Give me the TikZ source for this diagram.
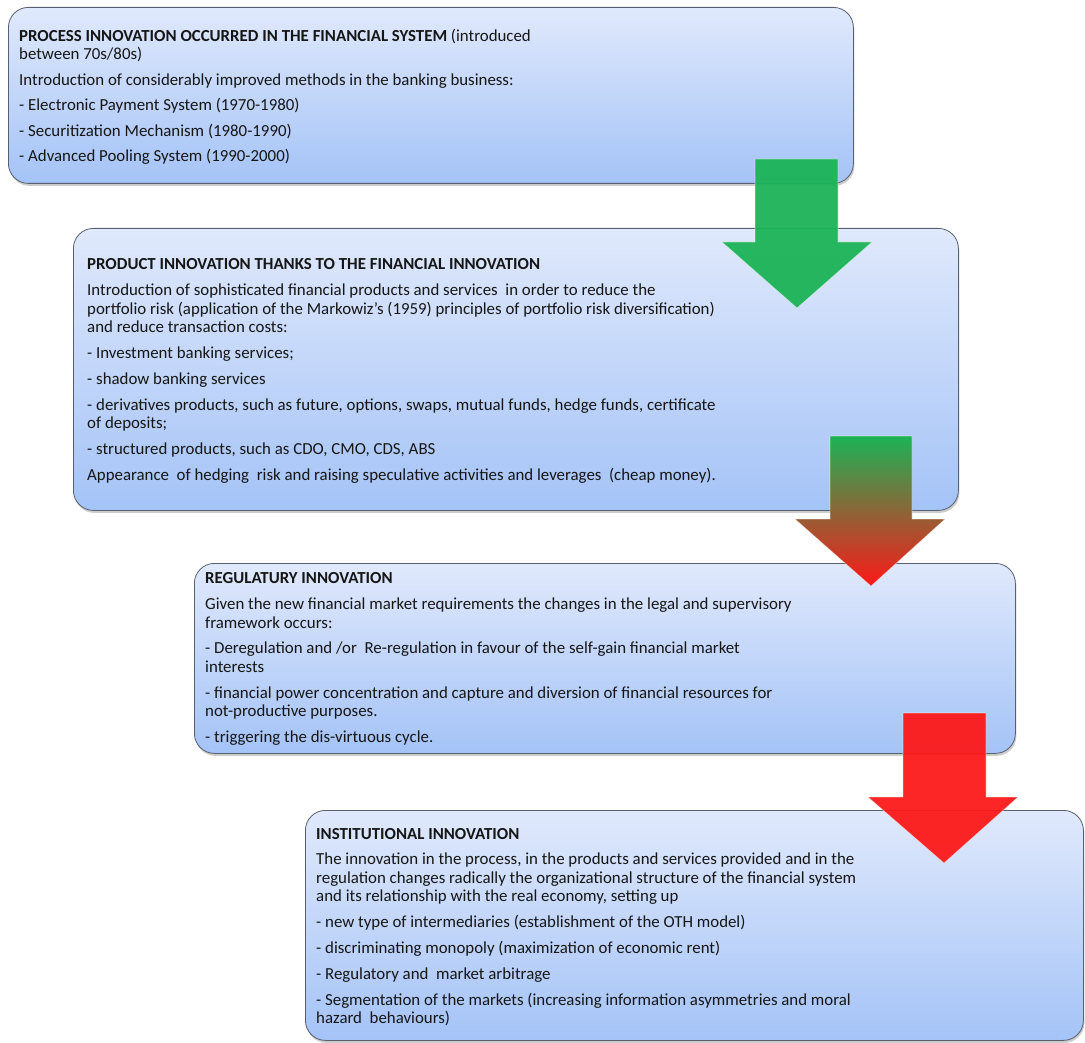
\documentclass[tikz,border=0pt]{standalone}
\usepackage{fontspec}
\setmainfont{Carlito}
\usetikzlibrary{shadows}
\definecolor{boxtop}{RGB}{224,233,252}
\definecolor{boxbot}{RGB}{164,195,247}
\definecolor{boxline}{RGB}{88,96,112}
\definecolor{agreen}{RGB}{27,179,86}
\definecolor{amid}{RGB}{212,118,48}
\definecolor{ared}{RGB}{253,24,24}
\definecolor{txt}{RGB}{22,22,22}
\begin{document}
\begin{tikzpicture}[x=1pt,y=-1pt]
\tikzset{
  box/.style={draw=boxline, line width=0.8pt, rounded corners=20pt, top color=boxtop, bottom color=boxbot,
    anchor=north west, inner sep=0pt,
    drop shadow={opacity=0.4, shadow xshift=1pt, shadow yshift=-2.5pt}},
  txtblk/.style={anchor=north west, inner sep=0pt, align=left, font=\fontsize{16.85}{18.5}\selectfont, text=txt},
  blockarrow/.style={draw=white, draw opacity=0.5, line width=0.6pt, fill opacity=0.94}
}
\useasboundingbox (0,0) rectangle (1085,1043);

% boxes
\node[box, minimum width=845pt, minimum height=176pt] (b1) at (8,7) {};
\node[box, minimum width=885pt, minimum height=282pt] (b2) at (73,228) {};
\node[box, minimum width=821pt, minimum height=190pt] (b3) at (194,563) {};
\node[box, minimum width=778pt, minimum height=230pt] (b4) at (305,810) {};

% texts
\node[txtblk] (t1) at (19,28) {\strut\textbf{PROCESS INNOVATION OCCURRED IN THE FINANCIAL SYSTEM} (introduced\\
between 70s/80s)\\[7pt]
Introduction of considerably improved methods in the banking business:\\[7pt]
- Electronic Payment System (1970-1980)\\[7pt]
- Securitization Mechanism (1980-1990)\\[7pt]
- Advanced Pooling System (1990-2000)};

\node[txtblk] (t2) at (87,256) {\strut\textbf{PRODUCT INNOVATION THANKS TO THE FINANCIAL INNOVATION}\\[8pt]
Introduction of sophisticated financial products and services\ \ in order to reduce the\\
portfolio risk (application of the Markowiz's (1959) principles of portfolio risk diversification)\\
and reduce transaction costs:\\[7.5pt]
- Investment banking services;\\[7pt]
- shadow banking services\\[7.5pt]
- derivatives products, such as future, options, swaps, mutual funds, hedge funds, certificate\\
of deposits;\\[7.5pt]
- structured products, such as CDO, CMO, CDS, ABS\\[7pt]
Appearance\ \ of hedging\ \ risk and raising speculative activities and leverages\ \ (cheap money).};

\node[txtblk] (t3) at (205,570) {\strut\textbf{REGULATURY INNOVATION}\\[8pt]
Given the new financial market requirements the changes in the legal and supervisory\\
framework occurs:\\[7pt]
- Deregulation and /or\ \ Re-regulation in favour of the self-gain financial market\\
interests\\[7.5pt]
- financial power concentration and capture and diversion of financial resources for\\
not-productive purposes.\\[7pt]
- triggering the dis-virtuous cycle.};

\node[txtblk] (t4) at (316,826) {\strut\textbf{INSTITUTIONAL INNOVATION}\\[7pt]
The innovation in the process, in the products and services provided and in the\\
regulation changes radically the organizational structure of the financial system\\
and its relationship with the real economy, setting up\\[7.5pt]
- new type of intermediaries (establishment of the OTH model)\\[7.5pt]
- discriminating monopoly (maximization of economic rent)\\[7pt]
- Regulatory and\ \ market arbitrage\\[7.5pt]
- Segmentation of the markets (increasing information asymmetries and moral\\
hazard\ \ behaviours)};

% block arrows
\path[blockarrow, fill=agreen]
  (755,159) -- (838,159) -- (838,242) -- (872,242) -- (797,308) -- (722,242) -- (755,242) -- cycle;
\path[blockarrow, fill opacity=1, top color=agreen, middle color=amid, bottom color=ared]
  (830,436) -- (912,436) -- (912,519) -- (945,519) -- (871,586) -- (795,519) -- (830,519) -- cycle;
\path[blockarrow, fill=ared]
  (903,713) -- (986,713) -- (986,797) -- (1018,797) -- (944,863) -- (868,797) -- (903,797) -- cycle;
\end{tikzpicture}
\end{document}
